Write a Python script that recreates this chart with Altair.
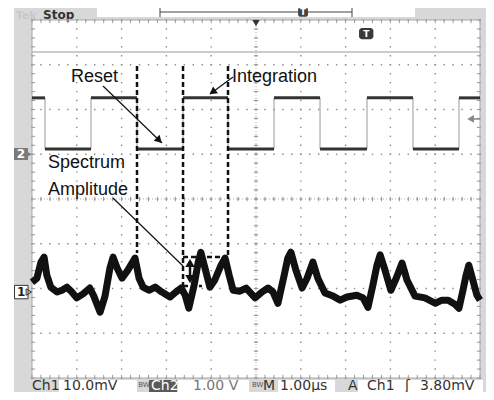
import altair as alt
import pandas as pd
import numpy as np

# ---------------- data (time in µs from left edge, 1 µs/div) ----------------
# Ch1 (10 mV/div): sampled trace, mV relative to Ch1 ground marker
ch1_t = [0.00, 0.11, 0.20, 0.27, 0.33, 0.42, 0.56, 0.67, 0.78, 0.89, 1.00, 1.14, 1.29, 1.38,
         1.52, 1.63, 1.74, 1.81, 1.90, 2.01, 2.14, 2.30, 2.39, 2.48, 2.61, 2.75, 2.90, 3.08,
         3.21, 3.33, 3.42, 3.50, 3.62, 3.71, 3.77, 3.86, 3.97, 4.08, 4.22, 4.31, 4.40, 4.49,
         4.64, 4.78, 4.98, 5.13, 5.27, 5.38, 5.49, 5.63, 5.71, 5.78, 5.89, 6.03, 6.14, 6.27,
         6.38, 6.54, 6.72, 6.88, 7.03, 7.25, 7.39, 7.50, 7.61, 7.70, 7.77, 7.88, 8.01, 8.13,
         8.26, 8.37, 8.55, 8.77, 9.00, 9.15, 9.29, 9.44, 9.53, 9.62, 9.69, 9.75, 9.84, 9.93, 10.0]
ch1_mv = [2.2, 3.1, 6.7, 7.8, 3.8, 1.1, 0.0, 0.4, 1.1, 0.0, -1.3, -0.4, 0.9, -0.9,
          -4.5, -0.9, 5.4, 7.8, 5.4, 3.1, 4.9, 7.6, 3.1, 1.1, 0.4, 1.1, 0.0, -1.1,
          0.0, 0.9, -0.7, -3.6, 1.6, 6.7, 8.9, 5.4, 1.1, 2.7, 6.0, 7.6, 3.8, 0.4,
          0.2, 0.9, -1.3, 0.0, 0.9, 0.0, -2.5, 3.8, 7.6, 8.9, 4.9, 0.9, 3.1, 6.7,
          3.1, -0.2, -0.9, -1.8, -1.1, -0.7, -1.3, -3.4, 1.6, 6.0, 8.3, 4.9, 0.4, 3.1,
          6.5, 2.7, -0.9, -1.3, -2.5, -1.8, -1.8, -2.7, -3.6, 0.4, 3.8, 6.0, 2.7, -0.7, -1.8]
ch1_ground_div = -2.08
ch1_mv_per_div = 10.0

# Ch2 (1 V/div): square wave, edge times and levels
ch2_edges = [0.29, 1.317, 2.344, 3.371, 4.375, 5.402, 6.429, 7.478, 8.504, 9.531]
ch2_start_high = True
ch2_high_v = 1.26
ch2_low_v = 0.12
ch2_ground_div = 1.0
ch2_v_per_div = 1.0

# status bar texts
status_texts = ["Ch1", "10.0mV", "1.00 V", "M", "1.00µs", "A", "Ch1", "ʃ", "3.80mV"]
status_x = [0.0, 0.692, 3.594, 5.156, 5.536, 7.054, 7.478, 8.326, 8.661]
status_col = ["#333", "#333", "#777", "#333", "#333", "#333", "#333", "#333", "#333"]

annot_texts = ["Reset", "Integration", "Spectrum", "Amplitude"]
annot_x = [0.871, 4.464, 0.357, 0.357]
annot_y = [2.615, 2.615, 0.693, 0.089]

# ---------------- helpers ----------------
XS = alt.Scale(domain=[0, 10], nice=False, zero=False)
YS = alt.Scale(domain=[-4, 4], nice=False, zero=False)


def X(f):
    return alt.X(f, type="quantitative", scale=XS, axis=None)


def Y(f):
    return alt.Y(f, type="quantitative", scale=YS, axis=None)


def rects(df, **kw):
    return alt.Chart(df).mark_rect(**kw).encode(x=X("x"), x2="x2", y=Y("y"), y2="y2")


def rules(df, **kw):
    return alt.Chart(df).mark_rule(**kw).encode(x=X("x"), x2="x2", y=Y("y"), y2="y2")


def seg(x, x2, y, y2):
    return pd.DataFrame({"x": [x], "x2": [x2], "y": [y], "y2": [y2]})


layers = []

# frame
layers.append(rects(seg(-0.402, 10.2, 4.4, -4.6), color="#d8d8d8"))
layers.append(rects(seg(0, 10, 4, -4), color="#ffffff"))
# top bar
layers.append(rects(seg(1.451, 8.549, 4.067, 4.4), color="#ffffff"))
layers.append(rules(pd.DataFrame({"x": [2.857, 7.143, 2.857], "x2": [2.857, 7.143, 7.143],
                                  "y": [4.067, 4.067, 4.179], "y2": [4.4, 4.4, 4.179]}),
                    color="#444", strokeWidth=1))
layers.append(rects(seg(5.94, 6.16, 4.07, 4.28), color="#444", cornerRadius=2))
layers.append(alt.Chart(pd.DataFrame({"x": [0.246], "y": [4.03], "t": ["Stop"]}))
              .mark_text(align="left", baseline="alphabetic", font="DejaVu Sans", fontSize=12,
                         fontWeight="bold", color="#333").encode(x=X("x"), y=Y("y"), text="t:N"))
layers.append(alt.Chart(pd.DataFrame({"x": [-0.36], "y": [4.03], "t": ["Tek"]}))
              .mark_text(align="left", baseline="alphabetic", font="DejaVu Sans", fontSize=11,
                         fontWeight="bold", color="#c8c8c8").encode(x=X("x"), y=Y("y"), text="t:N"))

# grid dots
gx, gy = [], []
for j in range(-4, 5):
    for i in range(51):
        gx.append(i * 0.2); gy.append(j)
for i in range(11):
    for j in range(-20, 21):
        gx.append(i); gy.append(j * 0.2)
layers.append(alt.Chart(pd.DataFrame({"x": gx, "y": gy})).mark_square(size=2, color="#8a8a8a", opacity=1)
              .encode(x=X("x"), y=Y("y")))

# center lines & ticks, border ticks
cl = pd.DataFrame({"x": [0, 5], "x2": [10, 5], "y": [0, -4], "y2": [0, 4]})
layers.append(rules(cl, color="#b0b0b0", strokeWidth=1, strokeDash=[1, 2]))
tk = []
for k in range(51):
    v = k * 0.2
    tk.append((v, v, -0.05, 0.05))
    tk.append((v, v, 4, 3.93))
    tk.append((v, v, -4, -3.93))
for k in range(-20, 21):
    v = k * 0.2
    tk.append((4.95, 5.05, v, v))
    tk.append((0, 0.07, v, v))
    tk.append((10, 9.93, v, v))
layers.append(rules(pd.DataFrame(tk, columns=["x", "x2", "y", "y2"]), color="#9a9a9a", strokeWidth=1))
layers.append(rects(seg(0, 10, 4, -4), fill=None, stroke="#a8a8a8", strokeWidth=1, filled=False))
# solid horizontal line
layers.append(rules(seg(0, 10, 3.285, 3.285), color="#999", strokeWidth=1.2))

# top markers
layers.append(alt.Chart(pd.DataFrame({"x": [5.0], "y": [3.93]})).mark_point(
    shape="triangle-down", size=55, filled=True, color="#333", opacity=1).encode(x=X("x"), y=Y("y")))
layers.append(rects(seg(7.30, 7.62, 3.82, 3.57), color="#3a3a3a", cornerRadius=3))
layers.append(alt.Chart(pd.DataFrame({"x": [7.46, 6.05], "y": [3.695, 4.17], "t": ["T", "T"]}))
              .mark_text(align="center", baseline="middle", font="DejaVu Sans", fontSize=9,
                         fontWeight="bold", color="#fff").encode(x=X("x"), y=Y("y"), text="t:N"))
# trigger arrow right
layers.append(rules(seg(9.8, 10, 1.788, 1.788), color="#888", strokeWidth=1.5))
layers.append(alt.Chart(pd.DataFrame({"x": [9.79], "y": [1.788]})).mark_point(
    shape="triangle-left", size=60, filled=True, color="#888", opacity=1).encode(x=X("x"), y=Y("y")))

# channel markers
layers.append(rects(seg(-0.402, -0.089, 1.14, 0.872), color="#7a7a7a"))
layers.append(alt.Chart(pd.DataFrame({"x": [-0.07], "y": [ch2_ground_div]})).mark_point(
    shape="triangle-right", size=40, filled=True, color="#7a7a7a", opacity=1).encode(x=X("x"), y=Y("y")))
layers.append(rects(seg(-0.39, -0.089, ch1_ground_div + 0.15, ch1_ground_div - 0.15),
                    fill="#fff", stroke="#333", strokeWidth=1))
layers.append(alt.Chart(pd.DataFrame({"x": [-0.07], "y": [ch1_ground_div]})).mark_point(
    shape="triangle-right", size=40, filled=False, color="#333", opacity=1, strokeWidth=1)
              .encode(x=X("x"), y=Y("y")))
layers.append(alt.Chart(pd.DataFrame({"x": [-0.245, -0.24], "y": [ch2_ground_div, ch1_ground_div],
                                      "t": ["2", "1"], "c": ["#fff", "#222"]}))
              .mark_text(align="center", baseline="middle", font="DejaVu Sans", fontSize=12,
                         fontWeight="bold").encode(x=X("x"), y=Y("y"), text="t:N",
                                                   color=alt.Color("c:N", scale=None)))

# Ch2 square wave
hi = ch2_ground_div + ch2_high_v / ch2_v_per_div
lo = ch2_ground_div + ch2_low_v / ch2_v_per_div
bounds = [0.0] + ch2_edges + [10.0]
px, py, segs = [], [], []
level = ch2_start_high
for a, b in zip(bounds[:-1], bounds[1:]):
    yv = hi if level else lo
    px += [a, b]; py += [yv, yv]
    segs.append((a, b, yv, yv))
    level = not level
layers.append(alt.Chart(pd.DataFrame({"x": px, "y": py, "o": range(len(px))})).mark_line(
    color="#999", strokeWidth=1).encode(x=X("x"), y=Y("y"), order="o:Q"))
layers.append(rules(pd.DataFrame(segs, columns=["x", "x2", "y", "y2"]), color="#333", strokeWidth=3))

# Ch1 trace
ch1_df = pd.DataFrame({"x": ch1_t, "y": [ch1_ground_div + v / ch1_mv_per_div for v in ch1_mv]})
layers.append(alt.Chart(ch1_df).mark_line(color="#111", strokeWidth=7, strokeJoin="round")
              .encode(x=X("x"), y=Y("y")))

# dashed annotation box
e1, e2, e3 = ch2_edges[2], ch2_edges[3], ch2_edges[4]
dash = pd.DataFrame({"x": [e1, e2, e3, e2, e2], "x2": [e1, e2, e3, e3, 3.795],
                     "y": [2.97, 2.97, 2.97, -1.296, -1.944], "y2": [-1.207, -1.944, -1.296, -1.296, -1.944]})
layers.append(rules(dash, color="#111", strokeWidth=2.5, strokeDash=[5, 3]))
# double arrow
layers.append(rules(seg(3.527, 3.527, -1.40, -1.82), color="#111", strokeWidth=2.5))
layers.append(alt.Chart(pd.DataFrame({"x": [3.527, 3.527], "y": [-1.43, -1.79], "s": ["triangle-up", "triangle-down"]}))
              .mark_point(size=90, filled=True, color="#111", opacity=1)
              .encode(x=X("x"), y=Y("y"), shape=alt.Shape("s:N", scale=None)))

# pointer arrows
arr = pd.DataFrame({"x": [1.585, 4.487, 1.808], "x2": [2.902, 3.973, 3.371],
                    "y": [2.525, 2.726, 0.022], "y2": [1.251, 2.346, -1.497]})
layers.append(rules(arr, color="#111", strokeWidth=1.2))
layers.append(alt.Chart(pd.DataFrame({"x": [2.84, 4.03], "y": [1.31, 2.39], "a": [134, 234]}))
              .mark_point(shape="triangle-up", size=70, filled=True, color="#111", opacity=1)
              .encode(x=X("x"), y=Y("y"), angle=alt.Angle("a:Q", scale=None)))

# annotation text
layers.append(alt.Chart(pd.DataFrame({"x": annot_x, "y": annot_y, "t": annot_texts}))
              .mark_text(align="left", baseline="alphabetic", font="Liberation Sans", fontSize=18, color="#111")
              .encode(x=X("x"), y=Y("y"), text="t:N"))

# status bar (squeezed to stay inside the 400px page)
sb_top, sb_bot, sb_base = -4.045, -4.32, -4.275
boxes = pd.DataFrame({"x": [0.603, 3.259, 5.491, 7.277], "x2": [2.344, 4.844, 6.763, 10.067],
                      "y": [sb_top] * 4, "y2": [sb_bot] * 4})
layers.append(rects(boxes, color="#ffffff"))
layers.append(rects(seg(2.612, 3.237, sb_top, sb_bot), color="#5a5a5a"))
layers.append(alt.Chart(pd.DataFrame({"x": status_x, "y": [sb_base] * len(status_x), "t": status_texts,
                                      "c": status_col}))
              .mark_text(align="left", baseline="alphabetic", font="DejaVu Sans", fontSize=14)
              .encode(x=X("x"), y=Y("y"), text="t:N", color=alt.Color("c:N", scale=None)))
layers.append(alt.Chart(pd.DataFrame({"x": [2.656], "y": [sb_base], "t": ["Ch2"]}))
              .mark_text(align="left", baseline="alphabetic", font="DejaVu Sans", fontSize=14, color="#fff")
              .encode(x=X("x"), y=Y("y"), text="t:N"))
layers.append(alt.Chart(pd.DataFrame({"x": [2.37, 4.91], "y": [-4.20, -4.20], "t": ["BW", "BW"]}))
              .mark_text(align="left", baseline="alphabetic", font="DejaVu Sans", fontSize=7, color="#555")
              .encode(x=X("x"), y=Y("y"), text="t:N"))

chart = alt.layer(*layers).properties(
    width=448, height=358,
    padding={"left": 24, "top": 12, "right": 6, "bottom": 14},
    autosize=alt.AutoSizeParams(type="none"),
).configure_view(stroke=None).configure(background="#ffffff")

chart.save("out.html", embed_options={"renderer": "svg", "actions": False})
